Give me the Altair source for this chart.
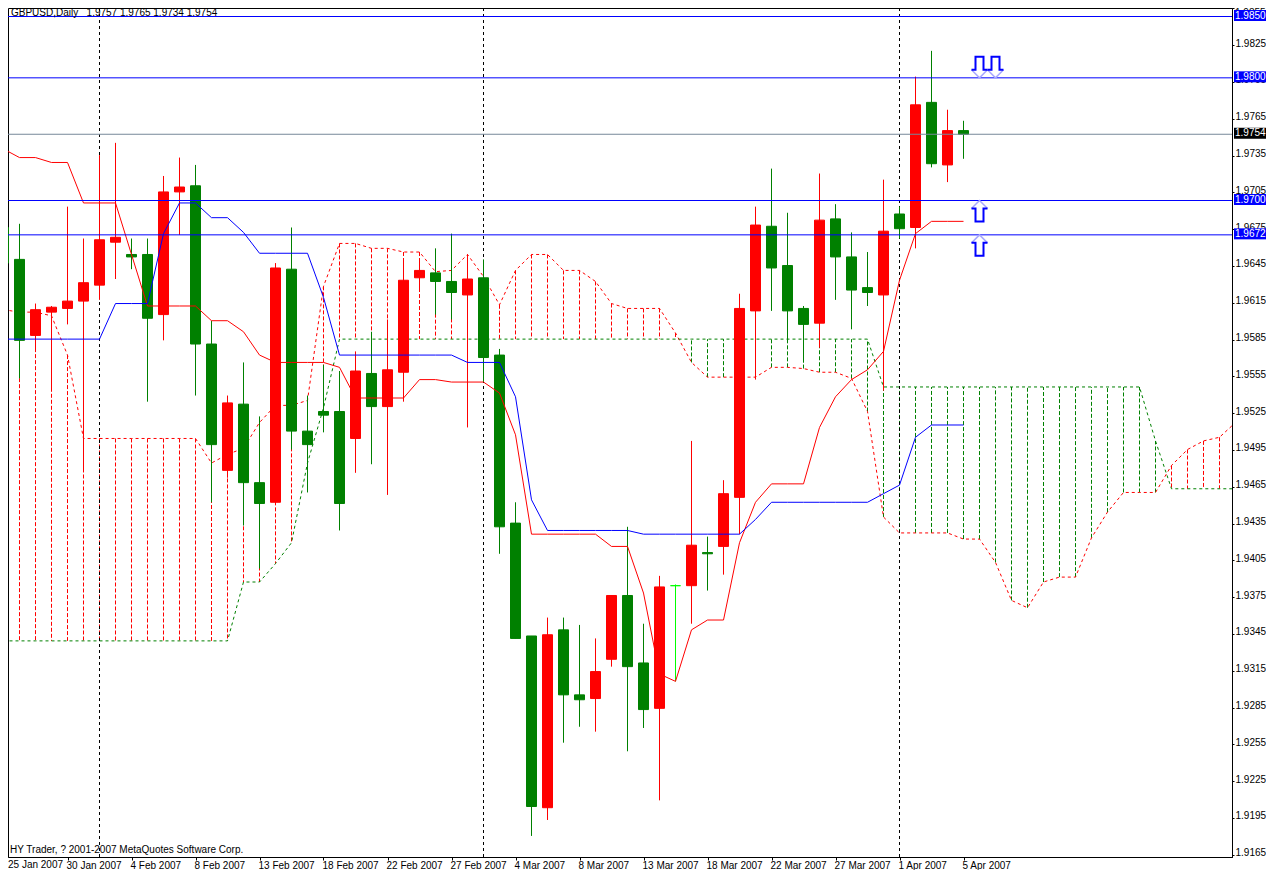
import altair as alt
import pandas as pd

FONT = "Liberation Sans"
FS = 10

opens = [1.9678,1.9652,1.9590,1.9609,1.9612,1.9618,1.9631,1.9666,1.9656,1.9656,
         1.9607,1.9707,1.9712,1.9583,1.9480,1.9534,1.9470,1.9454,1.9644,1.9512,
         1.9528,1.9528,1.9506,1.9559,1.9532,1.9560,1.9637,1.9641,1.9634,1.9623,
         1.9637,1.9574,1.9437,1.9345,1.9205,1.9350,1.9297,1.9294,1.9326,1.9378,
         1.9323,1.9286,1.9386,1.9386,1.9413,1.9418,1.9458,1.9610,1.9679,1.9647,
         1.9612,1.9600,1.9685,1.9654,1.9629,1.9623,1.9689,1.9678,1.9780,1.9729,1.9757]
highs = [1.9733,1.9681,1.9616,1.9614,1.9695,1.9669,1.9737,1.9747,1.9669,1.9669,
         1.9720,1.9735,1.9729,1.9602,1.9541,1.9568,1.9524,1.9649,1.9678,1.9541,
         1.9566,1.9561,1.9577,1.9593,1.9603,1.9651,1.9650,1.9661,1.9673,1.9656,
         1.9652,1.9579,1.9454,1.9345,1.9360,1.9360,1.9354,1.9343,1.9378,1.9434,
         1.9355,1.9394,1.9387,1.9504,1.9426,1.9472,1.9624,1.9695,1.9726,1.9690,
         1.9614,1.9722,1.9697,1.9674,1.9658,1.9717,1.9695,1.9801,1.9822,1.9774,1.9765]
lows = [1.9625,1.9555,1.9577,1.9547,1.9599,1.9480,1.9619,1.9636,1.9644,1.9536,
        1.9586,1.9672,1.9541,1.9454,1.9474,1.9435,1.9400,1.9452,1.9497,1.9462,
        1.9511,1.9431,1.9478,1.9485,1.9460,1.9536,1.9627,1.9607,1.9603,1.9515,
        1.9552,1.9412,1.9343,1.9182,1.9195,1.9258,1.9271,1.9267,1.9320,1.9251,
        1.9270,1.9211,1.9308,1.9355,1.9382,1.9395,1.9428,1.9554,1.9610,1.9584,
        1.9568,1.9580,1.9619,1.9595,1.9614,1.9545,1.9669,1.9661,1.9727,1.9715,1.9734]
closes = [1.9649,1.9586,1.9611,1.9613,1.9618,1.9633,1.9668,1.9670,1.9654,1.9604,
          1.9707,1.9711,1.9583,1.9501,1.9535,1.9470,1.9453,1.9645,1.9512,1.9501,
          1.9525,1.9453,1.9561,1.9532,1.9562,1.9635,1.9643,1.9634,1.9625,1.9636,
          1.9572,1.9434,1.9343,1.9206,1.9346,1.9297,1.9293,1.9316,1.9378,1.9320,
          1.9285,1.9385,1.9386,1.9419,1.9412,1.9461,1.9612,1.9680,1.9645,1.9610,
          1.9599,1.9684,1.9654,1.9627,1.9625,1.9675,1.9677,1.9778,1.9730,1.9757,1.9754]

tenkan = [1.9742,1.9735,1.9735,1.9731,1.9731,1.9698,1.9698,1.9698,1.9656,1.9614,
          1.9614,1.9614,1.9614,1.9602,1.9602,1.9593,1.9574,1.9568,1.9568,1.9568,
          1.9568,1.9564,1.9539,1.9539,1.9539,1.9539,1.9554,1.9554,1.9552,1.9552,
          1.9552,1.9543,1.9509,1.9428,1.9428,1.9428,1.9428,1.9428,1.9418,1.9418,
          1.9380,1.9314,1.9308,1.9350,1.9358,1.9358,1.9421,1.9454,1.9469,1.9469,
          1.9469,1.9515,1.9540,1.9554,1.9562,1.9577,1.9635,1.9673,1.9683,1.9683,1.9683]
kijun = [1.9587,1.9587,1.9587,1.9587,1.9587,1.9587,1.9587,1.9616,1.9616,1.9616,
         1.9673,1.9698,1.9698,1.9686,1.9686,1.9674,1.9657,1.9657,1.9657,1.9657,
         1.9621,1.9574,1.9574,1.9574,1.9574,1.9574,1.9574,1.9574,1.9574,1.9568,
         1.9568,1.9568,1.9540,1.9456,1.9431,1.9431,1.9431,1.9431,1.9431,1.9431,
         1.9428,1.9428,1.9428,1.9428,1.9428,1.9428,1.9428,1.9440,1.9454,1.9454,
         1.9454,1.9454,1.9454,1.9454,1.9454,1.9461,1.9468,1.9507,1.9517,1.9517,1.9517]
span_a = [1.9611,1.9609,1.9609,1.9606,1.9574,1.9506,1.9506,1.9506,1.9506,1.9506,
          1.9506,1.9506,1.9506,1.9486,1.9493,1.9498,1.9519,1.9533,1.9533,1.9537,
          1.9630,1.9665,1.9665,1.9661,1.9661,1.9658,1.9658,1.9642,1.9643,1.9656,
          1.9638,1.9615,1.9643,1.9656,1.9656,1.9643,1.9643,1.9634,1.9616,1.9612,
          1.9612,1.9612,1.9592,1.9568,1.9556,1.9556,1.9556,1.9556,1.9564,1.9564,
          1.9563,1.9560,1.9560,1.9555,1.9528,1.9442,1.9429,1.9429,1.9429,1.9429,
          1.9424,1.9424,1.9405,1.9374,1.9368,1.9389,1.9393,1.9393,1.9425,1.9446,
          1.9462,1.9462,1.9462,1.9484,1.9497,1.9504,1.9507,1.9519]
span_b = [1.9341,1.9341,1.9341,1.9341,1.9341,1.9341,1.9341,1.9341,1.9341,1.9341,
          1.9341,1.9341,1.9341,1.9341,1.9341,1.9389,1.9389,1.9404,1.9421,1.9486,
          1.9531,1.9587,1.9587,1.9587,1.9587,1.9587,1.9587,1.9587,1.9587,1.9587,
          1.9587,1.9587,1.9587,1.9587,1.9587,1.9587,1.9587,1.9587,1.9587,1.9587,
          1.9587,1.9587,1.9587,1.9587,1.9587,1.9587,1.9587,1.9587,1.9587,1.9587,
          1.9587,1.9587,1.9587,1.9587,1.9587,1.9548,1.9548,1.9548,1.9548,1.9548,
          1.9548,1.9548,1.9548,1.9548,1.9548,1.9548,1.9548,1.9548,1.9548,1.9548,
          1.9548,1.9548,1.9504,1.9465,1.9465,1.9465,1.9465,1.9465]

date_ticks = [4,8,12,16,20,24,28,32,36,40,44,48,52,56,60]
date_labels = ["25 Jan 2007","30 Jan 2007","4 Feb 2007","8 Feb 2007","13 Feb 2007","18 Feb 2007",
               "22 Feb 2007","27 Feb 2007","4 Mar 2007","8 Mar 2007","13 Mar 2007","18 Mar 2007",
               "22 Mar 2007","27 Mar 2007","1 Apr 2007","5 Apr 2007"]
price_ticks = [1.9855,1.9825,1.9795,1.9765,1.9735,1.9705,1.9675,1.9645,1.9615,1.9585,1.9555,1.9525,
               1.9495,1.9465,1.9435,1.9405,1.9375,1.9345,1.9315,1.9285,1.9255,1.9225,1.9195,1.9165]
separators = [6,30,56]
blue_levels = [1.9850,1.9800,1.9700,1.9672]
bid_level = [1.9754]
arrows_up = pd.DataFrame({"i":[61,61],"p":[1.9700,1.9672]})
arrows_down = pd.DataFrame({"i":[61,62],"p":[1.9800,1.9800]})
header = "GBPUSD,Daily\u00a0\u00a0\u00a01.9757 1.9765 1.9734 1.9754"
footer = "HY Trader, ? 2001-2007 MetaQuotes Software Corp."

x_scale = alt.Scale(domain=[0.28125,76.78125], nice=False, zero=False, padding=0)
y_scale = alt.Scale(domain=[1.916482,1.985693], nice=False, zero=False, padding=0)
label_js = "[" + ",".join(f"'{s}'" for s in date_labels) + "][datum.value/4]"
x_axis = alt.Axis(values=date_ticks, labelExpr=label_js, title=None, grid=False, orient="bottom",
                  tickSize=3, labelAlign="left", labelOffset=-1.5, labelPadding=0, labelBaseline="top",
                  labelOverlap=False, labelFlush=False, labelBound=False)
y_axis = alt.Axis(values=price_ticks, labelExpr="datum.value > 1.985 ? '' : format(datum.value, '.4f')",
                  title=None, grid=False, orient="right",
                  tickSize=2, labelPadding=1, tickOffset=-2, labelOffset=-2, labelOverlap=False,
                  labelFlush=False, labelBound=False, labelBaseline="middle")

def X(f="i"):
    return alt.X(f"{f}:Q", scale=x_scale, axis=x_axis)
def Y(f):
    return alt.Y(f"{f}:Q", scale=y_scale, axis=y_axis)

bars = pd.DataFrame({"i":range(len(opens)),"o":opens,"h":highs,"l":lows,"c":closes})
bars["col"] = ["#FF0000" if c>o else ("#008000" if c<o else "#00FF00") for o,c in zip(opens,closes)]
lines = pd.DataFrame({"i":range(len(tenkan)),"t":tenkan,"k":kijun})
cloud = pd.DataFrame({"i":range(len(span_a)),"a":span_a,"b":span_b})
cloud["col"] = ["#FF0000" if a>b else "#008000" for a,b in zip(span_a,span_b)]

DASH = [4,2]
hatch = alt.Chart(cloud).mark_rule(strokeWidth=1, strokeDash=DASH, clip=True).encode(
    x=X(), y=Y("a"), y2=alt.Y2("b:Q"), color=alt.Color("col:N", scale=None))
a_line = alt.Chart(cloud).mark_line(strokeWidth=1, strokeDash=[3,3], color="#FF0000", clip=True).encode(x=X(), y=Y("a"))
b_line = alt.Chart(cloud).mark_line(strokeWidth=1, strokeDash=[3,3], color="#008000", clip=True).encode(x=X(), y=Y("b"))
seps = alt.Chart(pd.DataFrame({"i":separators})).mark_rule(strokeWidth=1, strokeDash=[3,3], color="black").encode(x=X())
wicks = alt.Chart(bars).mark_rule(strokeWidth=1, clip=True).encode(
    x=X(), y=Y("h"), y2=alt.Y2("l:Q"), color=alt.Color("col:N", scale=None))
bodies = alt.Chart(bars).mark_bar(size=10, strokeWidth=1, clip=True).encode(
    x=X(), y=Y("o"), y2=alt.Y2("c:Q"),
    fill=alt.Fill("col:N", scale=None), stroke=alt.Stroke("col:N", scale=None))
t_line = alt.Chart(lines).mark_line(strokeWidth=1, color="#FF0000", clip=True).encode(x=X(), y=Y("t"))
k_line = alt.Chart(lines).mark_line(strokeWidth=1, color="#0000FF", clip=True).encode(x=X(), y=Y("k"))
hl_blue = alt.Chart(pd.DataFrame({"p":blue_levels})).mark_rule(strokeWidth=1, color="#0000FF").encode(y=Y("p"))
hl_bid = alt.Chart(pd.DataFrame({"p":bid_level})).mark_rule(strokeWidth=1, color="#778899").encode(y=Y("p"))

DOWN_HEAD = "M-8,-8L0,0L8,-8"
DOWN_BODY = "M-8,-8L-4,-8L-4,-21L4,-21L4,-8L8,-8"
UP_HEAD = "M-8,8L0,0L8,8"
UP_BODY = "M-8,8L-4,8L-4,21L4,21L4,8L8,8"
def arrow(df, path, col, sw):
    return alt.Chart(df).mark_point(shape=path, size=4, filled=False, strokeWidth=sw, color=col, opacity=1).encode(x=X(), y=Y("p"))
arrow_layers = [arrow(arrows_down, DOWN_HEAD, "#A8A8FF", 1.5), arrow(arrows_down, DOWN_BODY, "#0000FF", 2),
                arrow(arrows_up, UP_HEAD, "#A8A8FF", 1.5), arrow(arrows_up, UP_BODY, "#0000FF", 2)]

tags = pd.DataFrame({"p":blue_levels+bid_level, "col":["#0000FF"]*4+["#000000"]})
tags["label"] = [f"{v:.4f}" for v in tags["p"]]
top_label = alt.Chart(pd.DataFrame({"t":["1.9855"]})).mark_text(font=FONT, fontSize=FS, color="black", align="left", baseline="middle").encode(
    x=alt.value(1227), y=alt.value(4.5), text="t:N")
tag_box = alt.Chart(tags).mark_bar(height=11, yOffset=-1).encode(
    y=Y("p"), x=alt.value(1226), x2=alt.value(1258), fill=alt.Fill("col:N", scale=None))
tag_txt = alt.Chart(tags).mark_text(font=FONT, fontSize=FS, color="white", align="left", baseline="middle", dy=-1).encode(
    y=Y("p"), x=alt.value(1227), text="label:N")

title_txt = alt.Chart(pd.DataFrame({"t":[header]})).mark_text(font=FONT, fontSize=FS, color="black", align="left", baseline="middle").encode(
    x=alt.value(3), y=alt.value(4.5), text="t:N")
foot_txt = alt.Chart(pd.DataFrame({"t":[footer]})).mark_text(font=FONT, fontSize=FS, color="black", align="left", baseline="middle").encode(
    x=alt.value(2), y=alt.value(842), text="t:N")
first_date = alt.Chart(pd.DataFrame({"t":date_labels[:1]})).mark_text(font=FONT, fontSize=FS, color="black", align="left", baseline="top").encode(
    x=alt.value(0), y=alt.value(852), text="t:N")

chart = alt.layer(hatch, a_line, b_line, seps, wicks, bodies, t_line, k_line, hl_blue, hl_bid,
                  *arrow_layers, top_label, tag_box, tag_txt, title_txt, foot_txt, first_date
).properties(width=1224, height=849, background="white",
             autosize=alt.AutoSizeParams(type="none"),
             padding={"left":0,"top":0,"right":34,"bottom":13}
).configure_view(stroke="black", strokeWidth=1
).configure_axis(labelFont=FONT, labelFontSize=FS, labelColor="black", tickColor="black",
                 domainColor="black", tickWidth=1, domainWidth=1)

chart.save("out.html", embed_options={"renderer": "svg", "actions": False})
